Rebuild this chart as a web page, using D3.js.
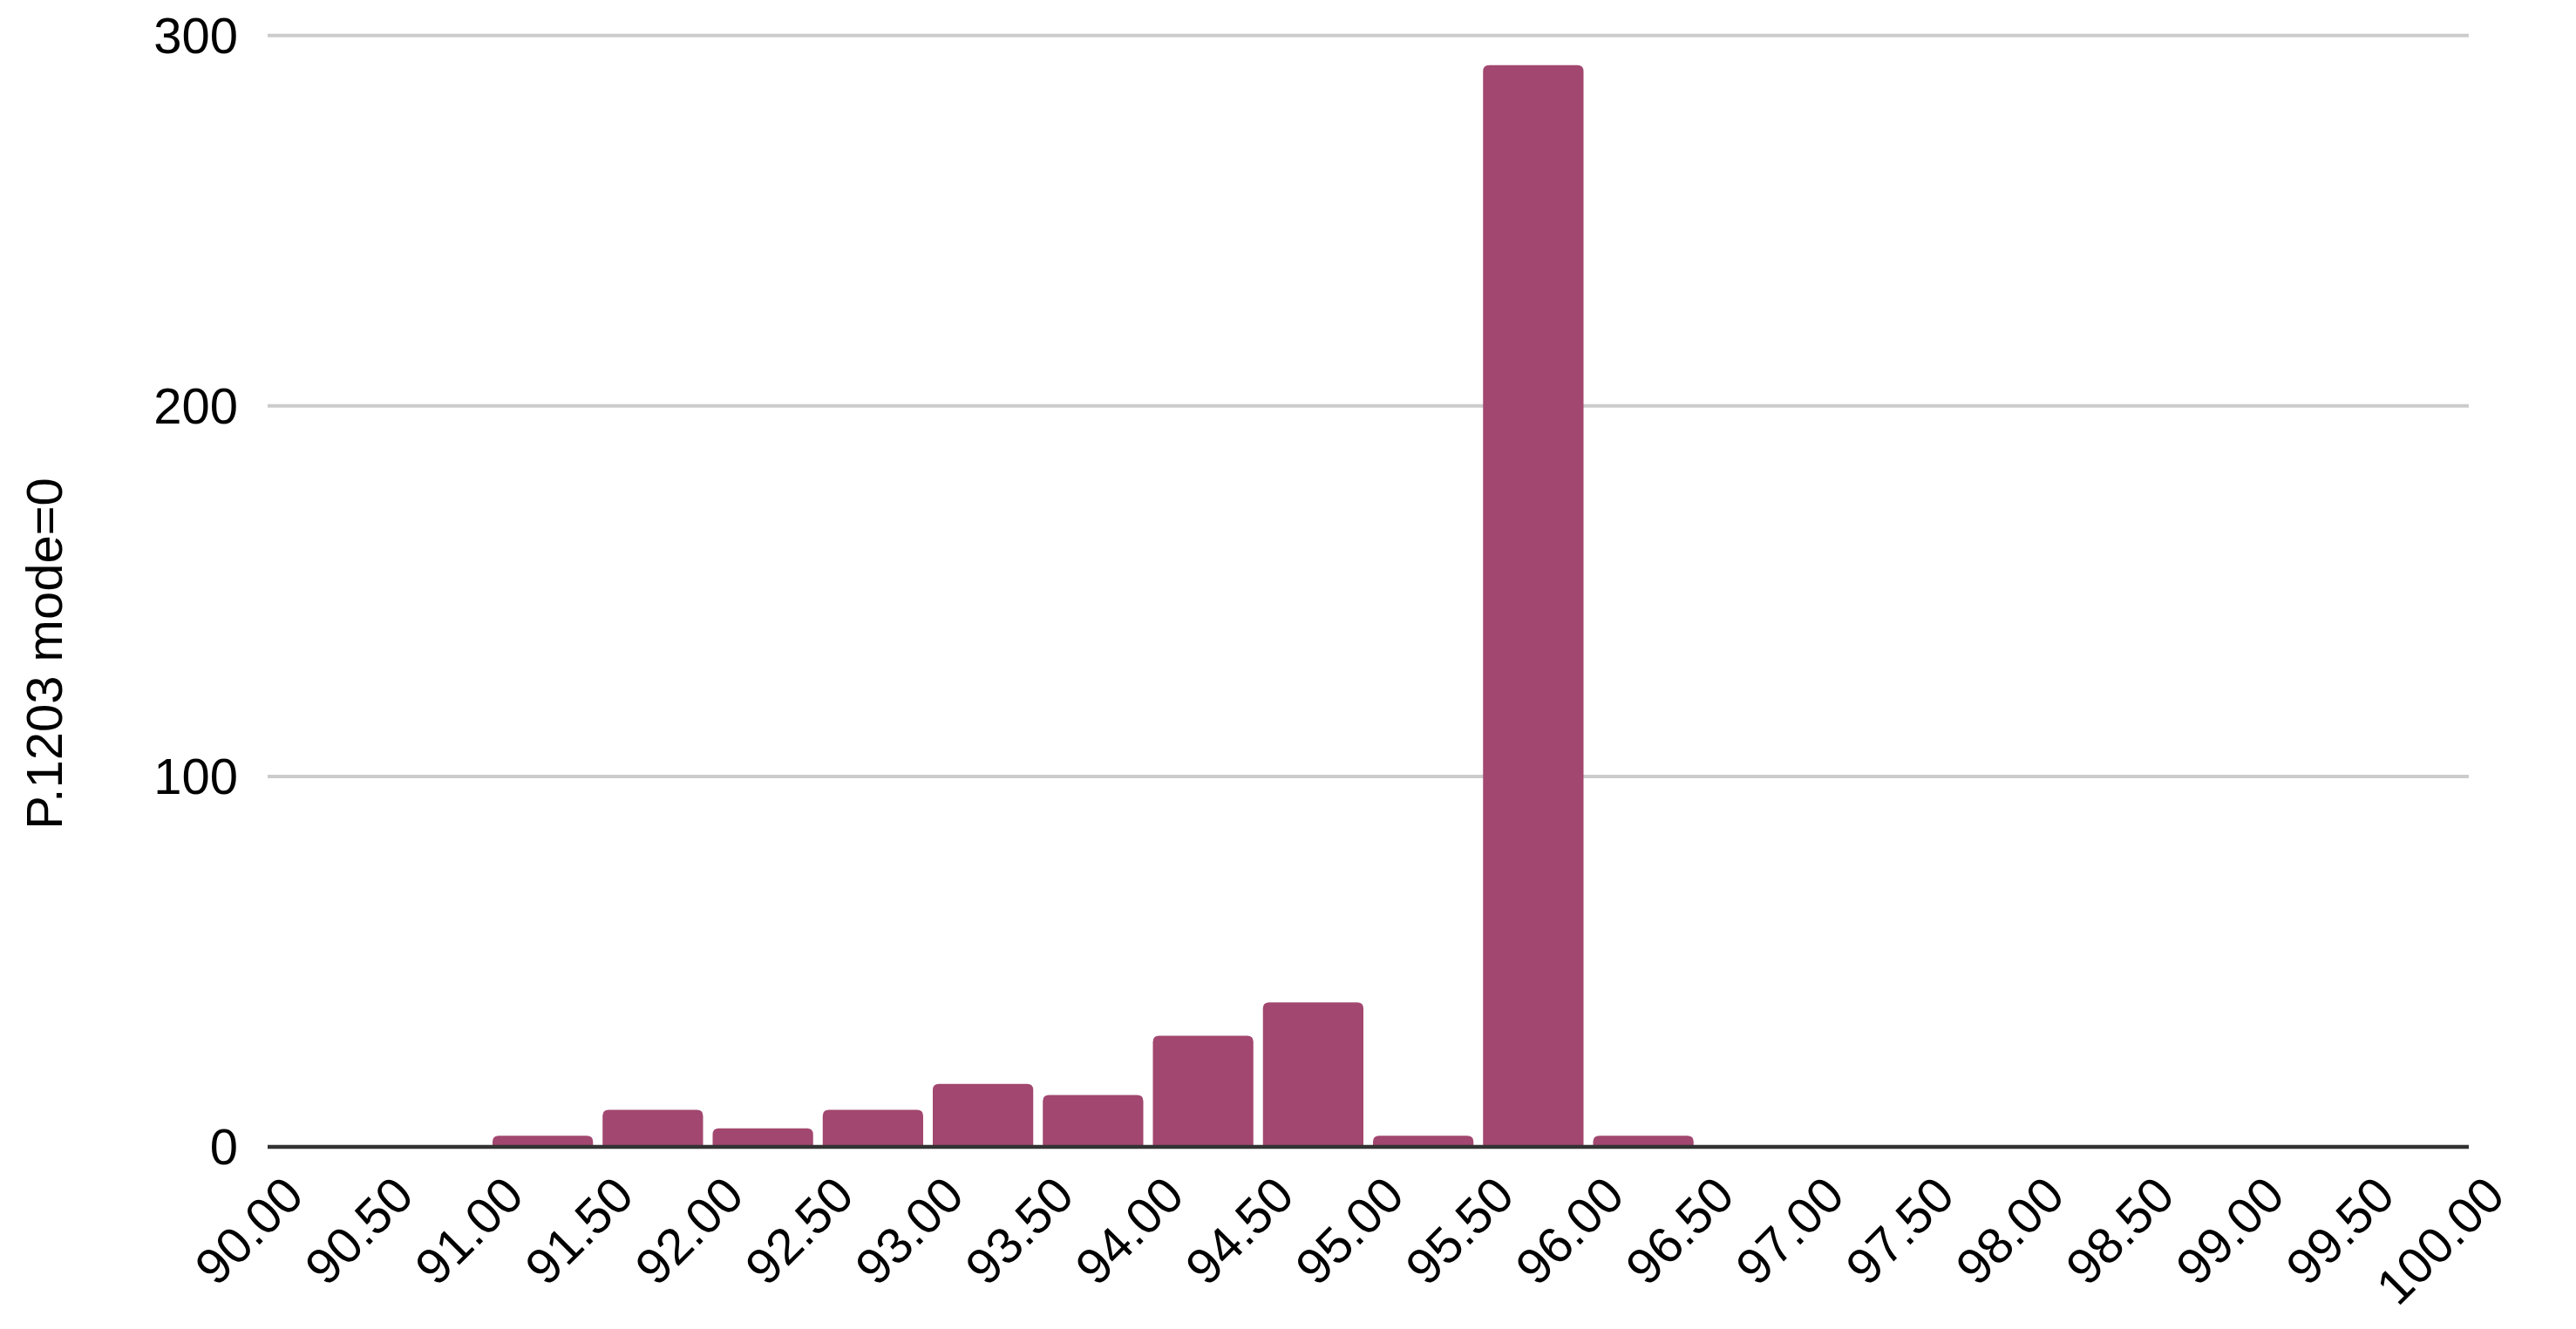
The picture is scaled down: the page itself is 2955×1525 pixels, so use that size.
<!DOCTYPE html>
<html>
<head>
<meta charset="utf-8">
<script src="https://cdn.jsdelivr.net/npm/d3@7"></script>
<style>
  html, body { margin: 0; padding: 0; background: #ffffff; }
  svg { display: block; }
  text { font-family: "Liberation Sans", Arial, sans-serif; fill: #000; }
</style>
</head>
<body>
<svg id="chart" width="2955" height="1525"></svg>
<script>
// ---- data ----
const binEdgeLabels = ["90.00","90.50","91.00","91.50","92.00","92.50","93.00","93.50","94.00","94.50","95.00","95.50","96.00","96.50","97.00","97.50","98.00","98.50","99.00","99.50","100.00"];
const binStarts = [90.0,90.5,91.0,91.5,92.0,92.5,93.0,93.5,94.0,94.5,95.0,95.5,96.0,96.5,97.0,97.5,98.0,98.5,99.0,99.5];
const counts = [0,0,3,10,5,10,17,14,30,39,3,292,3,0,0,0,0,0,0,0];
const yTickValues = [0,100,200,300];
const yTitle = "P.1203 mode=0";
const binWidth = 0.5;

// ---- layout ----
const W = 2955, H = 1525;
const plotLeft = 307, plotRight = 2832, plotTop = 40.7, plotBottom = 1316;
const fontSize = 58;
const barColor = "#a2476f";

const svg = d3.select("#chart");
svg.append("rect").attr("width", W).attr("height", H).attr("fill", "#fff");

const x = d3.scaleLinear().domain([90, 100]).range([plotLeft, plotRight]);
const y = d3.scaleLinear().domain([0, 300]).range([plotBottom, plotTop]);

// gridlines
svg.append("g")
  .selectAll("line")
  .data(yTickValues.filter(d => d !== 0))
  .join("line")
  .attr("x1", plotLeft).attr("x2", plotRight)
  .attr("y1", d => y(d)).attr("y2", d => y(d))
  .attr("stroke", "#cccccc").attr("stroke-width", 4);

// y tick labels
svg.append("g")
  .selectAll("text")
  .data(yTickValues)
  .join("text")
  .attr("x", 273)
  .attr("y", d => y(d))
  .attr("dy", "0.35em")
  .attr("text-anchor", "end")
  .attr("font-size", fontSize)
  .text(d => d);

// bars with rounded top corners
const gap = 11;
const r = 7;
function barPath(x0, x1, yTop, yBase) {
  const h = yBase - yTop;
  const rr = Math.min(r, h, (x1 - x0) / 2);
  return `M${x0},${yBase}L${x0},${yTop + rr}Q${x0},${yTop} ${x0 + rr},${yTop}` +
         `L${x1 - rr},${yTop}Q${x1},${yTop} ${x1},${yTop + rr}L${x1},${yBase}Z`;
}
const barData = binStarts.map((s, i) => ({ s, v: counts[i] })).filter(d => d.v > 0);
svg.append("g")
  .selectAll("path")
  .data(barData)
  .join("path")
  .attr("d", d => barPath(x(d.s) + gap / 2, x(d.s + binWidth) - gap / 2, y(d.v), y(0) - 2))
  .attr("fill", barColor);

// zero axis line
svg.append("line")
  .attr("x1", plotLeft).attr("x2", plotRight)
  .attr("y1", y(0)).attr("y2", y(0))
  .attr("stroke", "#333333").attr("stroke-width", 4.5);

// x tick labels, rotated
svg.append("g")
  .selectAll("text")
  .data(binEdgeLabels)
  .join("text")
  .attr("transform", (d, i) => `translate(${x(90 + i * binWidth) + 44},1375) rotate(-45)`)
  .attr("text-anchor", "end")
  .attr("font-size", fontSize)
  .text(d => d);

// y title
svg.append("text")
  .attr("transform", `translate(51,750) rotate(-90)`)
  .attr("text-anchor", "middle")
  .attr("dy", "0.35em")
  .attr("font-size", fontSize)
  .text(yTitle);
</script>
</body>
</html>
